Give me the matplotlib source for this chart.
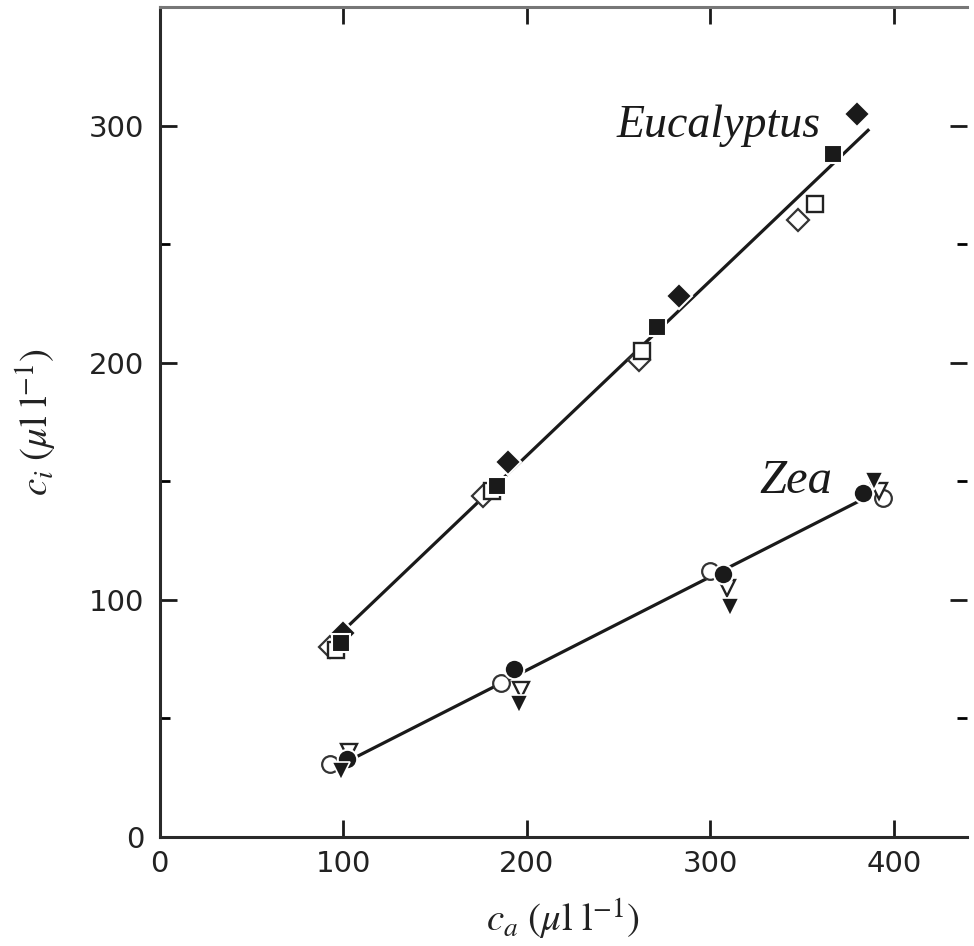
import numpy as np
import matplotlib
matplotlib.use('Agg')
import matplotlib.pyplot as plt
from matplotlib.ticker import MultipleLocator

plt.rcParams['mathtext.fontset'] = 'stix'

# Eucalyptus points, by marker type
euc_fd_x = [100, 190, 283, 380]
euc_fd_y = [86, 158, 228, 305]
euc_fs_x = [99, 184, 271, 367]
euc_fs_y = [82, 148, 215, 288]
euc_os_x = [96, 181, 263, 357]
euc_os_y = [79, 146, 205, 267]
euc_od_x = [93, 176, 261, 348]
euc_od_y = [80, 144, 201, 260]
euc_fit_x = [100, 386]
euc_fit_y = [87, 298]

# Zea points
zea_fc_x = [102, 193, 307, 383]
zea_fc_y = [33, 71, 111, 145]
zea_oc_x = [93, 186, 300, 394]
zea_oc_y = [31, 65, 112, 143]
zea_ot_x = [103, 197, 309, 392]
zea_ot_y = [36, 62, 105, 146]
zea_ft_x = [99, 196, 311, 389]
zea_ft_y = [28, 56, 97, 150]
zea_fit_x = [100, 382]
zea_fit_y = [31, 142]

fig = plt.figure(figsize=(9.74, 9.46), dpi=100)
ax = fig.add_axes([0.164, 0.1152, 0.829, 0.8774])

ax.plot(euc_fit_x, euc_fit_y, color='#1a1a1a', lw=2.3, zorder=2)
ax.plot(zea_fit_x, zea_fit_y, color='#1a1a1a', lw=2.3, zorder=2)

# open markers
ax.plot(euc_od_x, euc_od_y, 'D', ms=11, mfc='white', mec='#333333', mew=1.6, ls='none', zorder=3)
ax.plot(euc_os_x, euc_os_y, 's', ms=11, mfc='white', mec='#222222', mew=1.7, ls='none', zorder=3)
ax.plot(zea_oc_x, zea_oc_y, 'o', ms=12, mfc='white', mec='#333333', mew=1.6, ls='none', zorder=3)
ax.plot(zea_ot_x, zea_ot_y, 'v', ms=12, mfc='white', mec='#222222', mew=1.7, ls='none', zorder=3)
# filled markers
ax.plot(euc_fd_x, euc_fd_y, 'D', ms=13, mfc='#1a1a1a', mec='white', mew=1.5, ls='none', zorder=4)
ax.plot(euc_fs_x, euc_fs_y, 's', ms=13, mfc='#1a1a1a', mec='white', mew=1.5, ls='none', zorder=4)
ax.plot(zea_fc_x, zea_fc_y, 'o', ms=14, mfc='#1a1a1a', mec='white', mew=1.5, ls='none', zorder=4)
ax.plot(zea_ft_x, zea_ft_y, 'v', ms=13, mfc='#1a1a1a', mec='white', mew=1.2, ls='none', zorder=4)

ax.text(360, 295, 'Eucalyptus', ha='right', va='baseline', fontsize=33,
        family='Liberation Serif', style='italic', color='#1a1a1a')
ax.text(327, 145, 'Zea', ha='left', va='baseline', fontsize=35,
        family='Liberation Serif', style='italic', color='#1a1a1a')

ax.set_xlim(0, 440)
ax.set_ylim(0, 350)
ax.set_xticks([0, 100, 200, 300, 400])
ax.set_yticks([0, 100, 200, 300])
ax.yaxis.set_minor_locator(MultipleLocator(50))
ax.tick_params(axis='both', which='major', direction='in', length=12, width=2,
               labelsize=21, top=True, right=True, color='#1a1a1a')
ax.tick_params(axis='y', which='minor', direction='in', length=7, width=2, right=True)
ax.tick_params(axis='x', pad=9)
ax.tick_params(axis='y', pad=11)
for lab in ax.get_xticklabels() + ax.get_yticklabels():
    lab.set_family('DejaVu Sans')
    lab.set_color('#222222')

for side in ['left', 'bottom', 'top']:
    ax.spines[side].set_linewidth(2.2)
    ax.spines[side].set_color('#2a2a2a')
ax.spines['top'].set_color('#777777')
ax.spines['right'].set_visible(False)

ax.set_xlabel(r'$c_a\ (\mu\mathrm{l\ l}^{-1})$', fontsize=28, labelpad=14, color='#222222')
ax.set_ylabel(r'$c_i\ (\mu\mathrm{l\ l}^{-1})$', fontsize=28, labelpad=22, color='#222222')

fig.savefig('out.png', dpi=100)
